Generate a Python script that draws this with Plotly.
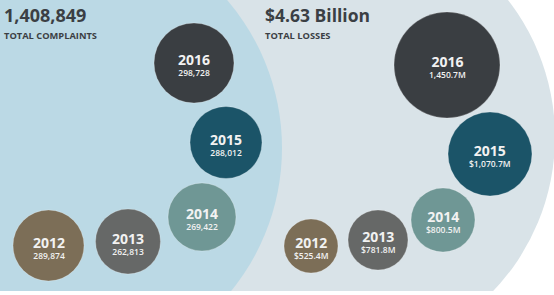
import plotly.graph_objects as go

# ---------------- data ----------------
years = ["2012", "2013", "2014", "2015", "2016"]
complaints = [289874, 262813, 269422, 288012, 298728]
losses_musd = [525.4, 781.8, 800.5, 1070.7, 1450.7]

total_complaints = sum(complaints)            # 1,408,849
total_losses_bn = sum(losses_musd) / 1000.0   # 4.63

complaint_labels = [f"{v:,}" for v in complaints]
loss_labels = [f"${v:,.1f}M" for v in losses_musd]
loss_labels[-1] = loss_labels[-1].lstrip("$")   # 2016 label shown without $

# ---------------- layout / style (pixel space) ----------------
W, H = 554, 295
year_colors = ["#7c6e57", "#666867", "#6f9795", "#1b5468", "#3a3e42"]
left_slots = [(48.5, 245.5, 71), (128, 241.5, 65), (202, 217, 68), (226, 142.5, 72), (194, 63, 80)]
right_slots = [(311, 246, 54), (378, 240, 60), (443, 220, 64), (490, 154, 84), (447, 65, 106)]
left_bg = dict(cx=55, cy=148, r=227, color="#bbd9e5")
right_bg = dict(cx=332, cy=137, r=223, color="#d9e3e8")
head_color = "#3b3f44"
FONT = "Open Sans"

fig = go.Figure()

shapes = []
for bg in (right_bg, left_bg):
    shapes.append(dict(type="circle", xref="x", yref="y",
                       x0=bg["cx"] - bg["r"], x1=bg["cx"] + bg["r"],
                       y0=bg["cy"] - bg["r"], y1=bg["cy"] + bg["r"],
                       fillcolor=bg["color"], line=dict(width=0), layer="below"))
shapes.append(dict(type="rect", xref="x", yref="y", x0=-5, x1=W + 5, y0=291, y1=H + 5,
                   fillcolor="white", line=dict(width=0), layer="below"))

annotations = []


def add_panel(slots, labels):
    xs = [s[0] for s in slots]
    ys = [s[1] for s in slots]
    ds = [s[2] for s in slots]
    fig.add_trace(go.Scatter(
        x=xs, y=ys, mode="markers",
        marker=dict(size=ds, sizemode="diameter", color=year_colors, opacity=1,
                    line=dict(width=1, color="rgba(255,255,255,0.25)")),
        hoverinfo="skip", showlegend=False))
    for (x, y, d), yr, lab in zip(slots, years, labels):
        annotations.append(dict(
            x=x, y=y, xref="x", yref="y",
            text=f"<span style='font-size:14px'><b>{yr}</b></span><br>{lab}",
            showarrow=False, yshift=-1, xanchor="center", yanchor="middle",
            font=dict(family=FONT, size=8.5, color="#f2f2f2", weight=600)))


add_panel(left_slots, complaint_labels)
add_panel(right_slots, loss_labels)

# headings
annotations += [
    dict(x=2, y=15, xref="x", yref="y", text=f"<b>{total_complaints:,}</b>", showarrow=False,
         xanchor="left", yanchor="middle", font=dict(family=FONT, size=18, color=head_color)),
    dict(x=2, y=35, xref="x", yref="y", text="<b>TOTAL COMPLAINTS</b>", showarrow=False,
         xanchor="left", yanchor="middle", font=dict(family=FONT, size=9.3, color=head_color)),
    dict(x=263, y=15, xref="x", yref="y", text=f"<b>${total_losses_bn:.2f} Billion</b>", showarrow=False,
         xanchor="left", yanchor="middle", font=dict(family=FONT, size=17.5, color=head_color)),
    dict(x=263, y=35, xref="x", yref="y", text="<b>TOTAL LOSSES</b>", showarrow=False,
         xanchor="left", yanchor="middle", font=dict(family=FONT, size=9.3, color=head_color)),
]

fig.update_layout(
    width=W, height=H, margin=dict(l=0, r=0, t=0, b=0),
    paper_bgcolor="white", plot_bgcolor="white",
    xaxis=dict(range=[0, W], visible=False, fixedrange=True),
    yaxis=dict(range=[H, 0], visible=False, fixedrange=True),
    shapes=shapes, annotations=annotations, showlegend=False,
)

fig.write_html("out.html")
